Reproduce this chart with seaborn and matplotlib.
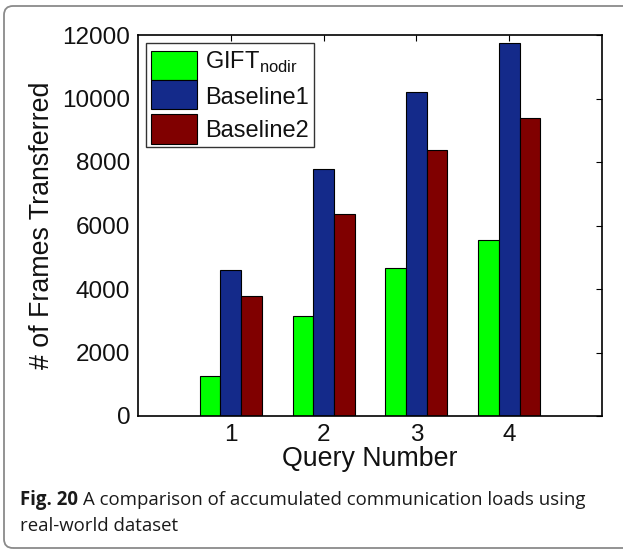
import matplotlib
matplotlib.use("Agg")
import matplotlib.pyplot as plt
from matplotlib.patches import FancyBboxPatch, Rectangle
from matplotlib.legend_handler import HandlerPatch
from matplotlib.transforms import IdentityTransform
import seaborn as sns
import pandas as pd

# Accumulated frames transferred per query
queries = ["1", "2", "3", "4"]
gift_nodir = [1250, 3160, 4670, 5530]
baseline1 = [4600, 7770, 10200, 11740]
baseline2 = [3770, 6350, 8370, 9400]
series_names = ["GIFT$_{\\mathregular{nodir}}$", "Baseline1", "Baseline2"]
series_colors = ["#00ff00", "#142a8a", "#800000"]
y_ticks = [0, 2000, 4000, 6000, 8000, 10000, 12000]

df = pd.DataFrame({
    "query": queries * 3,
    "frames": gift_nodir + baseline1 + baseline2,
    "method": [series_names[0]] * 4 + [series_names[1]] * 4 + [series_names[2]] * 4,
})

sns.set_style("white")
plt.rcParams["font.family"] = ["Liberation Sans", "DejaVu Sans"]
plt.rcParams["mathtext.fontset"] = "custom"
plt.rcParams["mathtext.rm"] = "Liberation Sans"

W, H = 623, 549
fig = plt.figure(figsize=(W / 100, H / 100), dpi=100)
ax = fig.add_axes([138 / W, 1 - 416 / H, 464 / W, 381 / H])

sns.barplot(data=df, x="query", y="frames", hue="method", order=queries,
            hue_order=series_names, palette=series_colors, width=2 / 3,
            gap=0, edgecolor="black", linewidth=0.8, saturation=1, ax=ax)

ax.set_xlim(-1, 4)
ax.set_ylim(0, 12000)
ax.set_yticks(y_ticks)
ax.set_yticklabels([str(t) for t in y_ticks])
ax.tick_params(direction="in", length=4, width=0.8, top=True, right=True,
               labelsize=17.5, pad=5.5, colors="black", labelcolor="#111111")
for s in ax.spines.values():
    s.set_visible(True)
    s.set_color("black")
    s.set_linewidth(1.2)

ax.set_xlabel("Query Number", fontsize=19.3, color="#111111")
ax.set_ylabel("# of Frames Transferred", fontsize=19.3, color="#111111")
ax.xaxis.set_label_coords(0.5, -0.08)
ax.yaxis.set_label_coords(-0.178, 0.5)


def make_swatch(bottom, tall=21.0):
    # Tall legend swatch, placed relative to the label baseline (points)
    def swatch(legend, orig_handle, xdescent, ydescent, width, height, fontsize):
        return Rectangle((-xdescent, bottom), width, tall)
    return swatch


handles, labels = ax.get_legend_handles_labels()
if ax.get_legend() is not None:
    ax.get_legend().remove()
swatch_bottoms = [-8.0, -3.8, -4.6]
hmap = {h: HandlerPatch(patch_func=make_swatch(b)) for h, b in zip(handles, swatch_bottoms)}
leg = ax.legend(handles, labels, loc="upper left", fontsize=17,
                handlelength=1.95, handleheight=1.305, handletextpad=0.35,
                labelspacing=0.33, borderpad=0.22, borderaxespad=0.33,
                frameon=True, fancybox=False, edgecolor="black", handler_map=hmap)
leg.get_frame().set_linewidth(1.0)
for t in leg.get_texts():
    t.set_color("#111111")

# Rounded figure panel frame
frame = FancyBboxPatch((4, 1), 700, 542, boxstyle="round,pad=0,rounding_size=9",
                       transform=IdentityTransform(), facecolor="none",
                       edgecolor="#8a8a8a", linewidth=1.3, clip_on=False)
fig.patches.append(frame)

# Caption
cap_font = ["Open Sans", "DejaVu Sans"]
cap_size = 13.4
fig.canvas.draw()
bold = fig.text(20 / W, 1 - 505 / H, "Fig. 20", fontsize=cap_size, fontweight="bold",
                family=cap_font, color="#1a1a1a", va="baseline")
fig.canvas.draw()
bb = bold.get_window_extent()
x1 = (bb.x1 + 5) / W
fig.text(x1, 1 - 505 / H, "A comparison of accumulated communication loads using",
         fontsize=cap_size, family=cap_font, color="#1a1a1a", va="baseline")
fig.text(20 / W, 1 - 531 / H, "real-world dataset", fontsize=cap_size,
         family=cap_font, color="#1a1a1a", va="baseline")

fig.savefig("out.png", dpi=100)
